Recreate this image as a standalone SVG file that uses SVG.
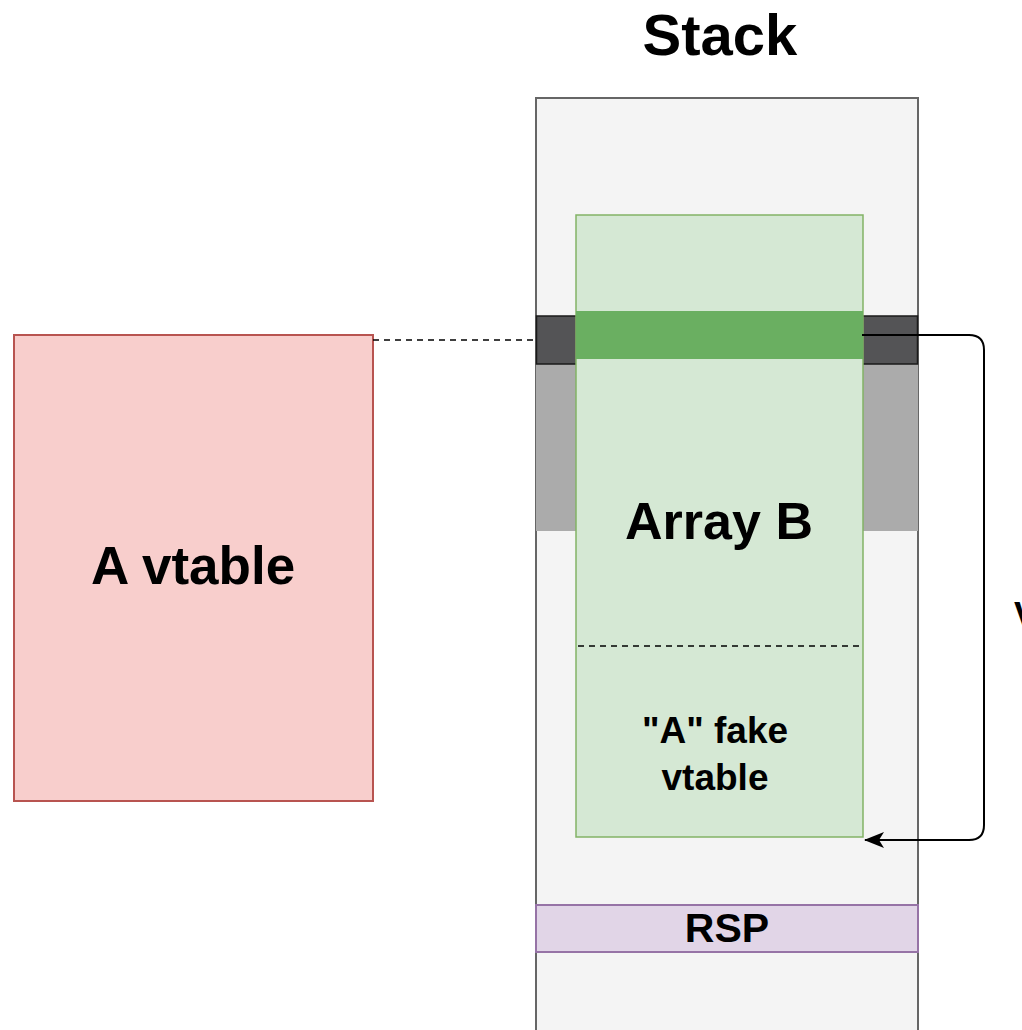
<svg xmlns="http://www.w3.org/2000/svg" width="1022" height="1030" viewBox="0 0 1022 1030">
  <style>
    text { font-family: "Liberation Sans", Arial, sans-serif; font-weight: bold; fill: #000; text-anchor: middle; }
    .dash { fill: none; stroke: #000; stroke-width: 1.5; stroke-dasharray: 6 5; }
    .conn { fill: none; stroke: #000; stroke-width: 2; }
  </style>
  <defs>
    <marker id="arrow" viewBox="0 0 20 16" refX="19" refY="8" markerWidth="20" markerHeight="16" markerUnits="userSpaceOnUse" orient="auto">
      <path d="M0,0 L20,8 L0,16 L5,8 Z" fill="#000"/>
    </marker>
  </defs>
  <rect width="1022" height="1030" fill="#ffffff"/>

  <g id="stack-title"><text x="720" y="55" font-size="58">Stack</text></g>

  <g id="stack">
    <rect x="536" y="98" width="382" height="940" fill="#f4f4f4" stroke="#666666" stroke-width="2"/>
  </g>

  <g id="gray-band">
    <rect x="536" y="364" width="382" height="167" fill="#ababab"/>
  </g>
  <g id="dark-bar">
    <rect x="536.5" y="316" width="381" height="48" fill="#545456" stroke="#1a1a1a" stroke-width="1.5"/>
  </g>

  <g id="array-b">
    <rect x="576" y="215" width="287" height="622" fill="#d5e8d4" stroke="#82b366" stroke-width="1.5"/>
    <rect x="576" y="311" width="287" height="48" fill="#6aaf61"/>
    <line x1="578" y1="646" x2="861" y2="646" class="dash"/>
    <text x="719" y="539" font-size="52">Array B</text>
    <text x="715" y="743" font-size="37">"A" fake</text>
    <text x="715" y="790" font-size="37">vtable</text>
  </g>

  <g id="rsp">
    <rect x="536" y="905" width="382" height="47" fill="#e1d5e7" stroke="#9673a6" stroke-width="2"/>
    <text x="727" y="942" font-size="41">RSP</text>
  </g>

  <g id="a-vtable">
    <rect x="14" y="335" width="359" height="466" fill="#f8cecc" stroke="#b85450" stroke-width="2"/>
    <text x="193" y="584" font-size="53">A vtable</text>
  </g>

  <g id="connectors">
    <line x1="373" y1="340" x2="536" y2="340" class="dash"/>
    <path d="M862,335 L969,335 Q984,335 984,350 L984,825 Q984,840 969,840 L865,840" class="conn" marker-end="url(#arrow)"/>
  </g>

  <g id="edge-label"><text x="1014" y="628" font-size="36" style="text-anchor:start">V</text></g>
</svg>
